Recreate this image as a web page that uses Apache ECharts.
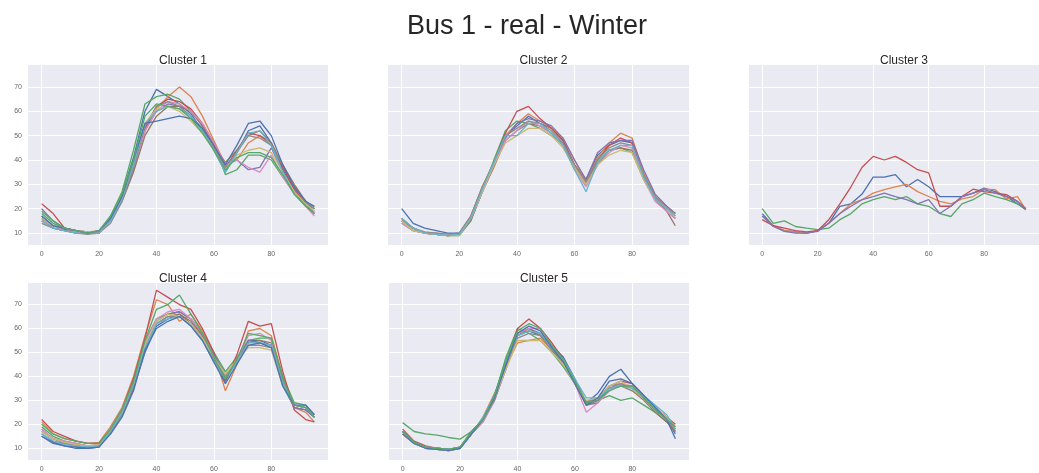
<!DOCTYPE html>
<html>
<head>
<meta charset="utf-8">
<script src="https://cdn.jsdelivr.net/npm/echarts@6/dist/echarts.min.js"></script>
<style>
html,body{margin:0;padding:0;background:#fff;}
#chart{width:1039px;height:473px;}
</style>
</head>
<body>
<div id="chart"></div>
<script>
// ---- data ----
const mainTitle = "Bus 1 - real - Winter";
const clusterNames = ["Cluster 1", "Cluster 2", "Cluster 3", "Cluster 4", "Cluster 5"];
const xTicks = [0, 20, 40, 60, 80];
const yTicks = [10, 20, 30, 40, 50, 60, 70];
const xs = [0,4,8,12,16,20,24,28,32,36,40,44,48,52,56,60,64,68,72,76,80,84,88,92,95];

const cluster1 = [
  [17,13,11.5,10.5,10,11,16,26,41,60,69,66,63,59,52,44,35,43,52,54,47,36,28,22,20],
  [15,12,11,10.5,10,10.5,15,24,37,52,61,66,70,66,58,48,38,40,47,50,46,37,29,23,18],
  [18,14,12,11,10.5,10,17,27,44,63,66,67,65,60,54,47,34,36,42,42,40,33,27,22,21],
  [22,18,12,11,10,10.5,16,25,38,53,62,65,64,61,55,47,37,44,51,50,47,37,28,22,18],
  [20,15,12,11,10.5,10,15,24,36,52,60,63,62,58,53,46,38,40,36,37,45,35,27,21,19],
  [16,12,11,10,10,11,15,23,35,50,58,62,62,60,54,46,39,44,50,52,47,38,30,23,20],
  [15,13,11,10.5,10,10,15,24,37,52,60,64,63,60,55,47,38,40,37,35,42,33,26,21,17],
  [14,12,11,10,9.5,10,14,23,37,54,62,64,62,58,52,45,37,43,50,49,46,38,29,23,20],
  [16,13,12,11,10.5,11,16,26,39,55,61,62,60,56,51,44,36,42,44,45,43,35,27,22,19],
  [15,12,11,10,10,10,15,24,38,55,60,62,61,58,52,44,35,43,51,52,46,35,26,21,18],
  [17,13,12,11,10,11,16,25,40,55,56,57,58,57,53,46,38,46,55,56,50,38,29,23,21],
  [19,15,12,11,10,11,17,26,40,58,63,62,61,57,51,44,36,41,43,43,41,34,26,21,18]
];
const cluster2 = [
  [20,14,12,11,10,10,16,27,38,50,54,58,55,53,48,38,32,42,46,48,47,34,25,20,18],
  [15,11,10,9.5,9,9.5,16,28,39,50,55,59,56,53,49,40,31,41,47,51,49,35,25,21,18],
  [14,11,10,9.5,9,9,15,27,40,52,56,55,53,50,47,37,30,39,44,45,43,32,24,20,17],
  [16,12,10,10,9.5,10,17,29,39,51,60,62,57,53,48,38,31,40,46,49,47,33,24,19,16],
  [16,12,10,9.5,9,9.5,16,28,38,49,55,57,56,54,49,40,32,43,47,48,48,36,26,21,18],
  [15,12,10,9.5,9,9.5,15,27,37,48,52,55,54,51,46,37,30,38,44,45,44,33,24,19,13],
  [14,11,10,9.5,9,9.5,16,27,38,48,52,56,54,51,46,36,29,38,43,46,45,32,23,19,16],
  [15,12,10.5,10,9.5,10,17,29,39,50,53,56,55,52,47,38,31,40,45,47,46,34,25,20,18],
  [15,11,10,9.5,9,9,16,27,38,47,50,53,53,50,45,37,30,38,42,44,43,32,24,20,17],
  [16,12,10,9.5,9,9.5,16,28,39,50,50,55,55,51,46,36,27,39,44,46,46,33,24,20,17]
];
const cluster3 = [
  [18,13,11,10.5,10,11,14,21,22,26,33,33,34,29,32,29,25,25,25,26.4,28.5,27,25,22,19.6],
  [17,13,11,10.5,10,11,14,18,22,23.7,26.4,27.8,29,30,27,25,23,22,24,25,28,27.8,24,25,19.6],
  [20,14,15,12.7,12,11.4,12,15.5,18,22,23.7,25,23.7,25,22,21,18,16.8,22,23.7,26.4,25,23.7,22,20],
  [15.5,13,12,11,10.5,11,15.5,22,29,37,41.5,40,41.5,39,36,34.7,21,21,25,28,27,26.4,25.8,23,20],
  [17,12.7,10.7,10,10,10.7,14,18,21,23.7,25,26.4,25,23.7,22,23.7,18,21,25,26.4,27.8,26.4,25,23,20]
];
const cluster4 = [
  [15,12,11,10,10,10.5,17,24,35,50,61,64,66,62,56,46,38,47,55,55,53,36,27,26,23],
  [21,16,14,13,12,12.5,19,27,40,57,72,70,63,66,59,50,34,45,59,60,57,40,27,25,21],
  [19,15,13,12,11,11,18,26,38,55,64,66,67,64,58,50,42,48,55,56,56,40,29,28,24],
  [22,17,15,13,12,12,18,26,39,56,76,73,70,68,60,50,38,49,63,61,62,42,26,22,21],
  [17,14,12,11,10.5,11,17,25,36,53,63,66,67,64,57,49,41,46,55,54,53,37,27,26,23],
  [18,14,12.5,11.5,11,11.5,17,24,36,52,62,65,66,63,57,48,40,46,54,55,54,38,28,27,23],
  [18,14,13,12,11,11.5,18,26,37,54,64,67,68,64,58,48,40,47,57,58,55,38,28,27,24],
  [16,13,12,11,10.5,11,16,24,36,52,62,65,65,62,56,47,40,46,53,53,52,37,28,27,23],
  [17,14,12.5,11.5,11,11.5,18,25,37,53,63,66,65,62,56,48,41,47,52,52,51,36,28,27,24],
  [16,13,11.5,11,10.5,11,17,25,37,52,62,64,65,61,55,46,39,46,54,54,53,37,28,27,23],
  [15,12.5,11,10.5,10,10.5,16,23,34,51,60,63,65,61,55,46,37,45,53,54,52,36,28,28,24],
  [20,16,14,13,12,12,18,26,38,55,68,70,74,66,58,48,39,47,58,57,56,39,28,27,23]
];
const cluster5 = [
  [17,12,10,9.5,9,10,16,22,31,44,57,59,57,53,48,39,29,33,40,43,37,32,27,22,16],
  [16,12,10.5,10,9.5,10.5,16,23,33,44,54,55,56,51,46,38,29,31,35,36,36,32,27,23,19],
  [20.7,17,16,15.5,14.5,13.8,17,22,32,48,60,58,55,50,44,37,29,30,32,30,31,28,25,21,17],
  [18,13,11,10,9.5,10,16,22,31,45,60,64,60,54,47,38,29,30,36,38,37,32,27,23,20],
  [16,12,10,9.5,9,10,16,21,30,43,58,60,58,52,46,38,28,29,35,37,35,31,26,22,18],
  [17,12.5,10.5,10,9.5,10.5,17,22,31,45,57,60,57,51,45,37,28,30,35,36,34,30,25,21,17],
  [16,12,10.5,10,9.5,10.5,16,21,30,44,58,60,60,53,46,37,25,29,34,37,36,32,27,22,18],
  [17,12.5,10.5,10,9.5,10.5,16,22,30,44,56,58,57,51,46,38,29,31,36,37,35,31,26,22,18],
  [16,12,10,9.5,9,10,16,22,31,43,55,55,55,50,45,37,30,31,36,38,35,31,27,23,19],
  [17,12.5,10.5,10,9.5,10,16,23,32,46,57,59,58,52,47,39,31,31,35,36,35,32,28,24,18],
  [16,12,10,9.5,9,10,16,22,31,45,58,61,59,52,46,37,28,31,38,39,37,32,27,22,14],
  [17,12.5,10.5,10,9.5,10.5,17,22,32,47,59,62,60,53,47,38,29,30,34,36,36,31,26,22,19]
];
const clusters = [cluster1, cluster2, cluster3, cluster4, cluster5];

// ---- styling ----
const palette = ['#4C72B0','#DD8452','#55A868','#C44E52','#8172B3','#937860','#DA8BC3','#8C8C8C','#CCB974','#64B5CD','#4C72B0','#55A868'];
const cluster3Colors = ['#4C72B0','#DD8452','#55A868','#C44E52','#8172B3'];
const grids = [
  {left: 28, top: 65, width: 300, height: 180},
  {left: 388, top: 65, width: 301, height: 180},
  {left: 749, top: 65, width: 300, height: 180},
  {left: 28, top: 283, width: 300, height: 180},
  {left: 389, top: 283, width: 300, height: 180}
];
const showY = [true, false, false, true, false];
const labelStyle = {fontFamily: 'Liberation Sans', fontSize: 7, color: '#666'};

const chart = echarts.init(document.getElementById('chart'), null, {renderer: 'canvas'});
const titles = [{
  text: mainTitle, left: 522, top: 8, textAlign: 'center',
  textStyle: {fontFamily: 'Liberation Sans', fontSize: 27, fontWeight: 'normal', color: '#262626'}
}];
grids.forEach((g, i) => {
  titles.push({
    text: clusterNames[i], left: g.left + g.width / 2, top: g.top - 15, textAlign: 'center',
    textStyle: {fontFamily: 'Liberation Sans', fontSize: 12, fontWeight: 'normal', color: '#262626'}
  });
});
const series = [];
clusters.forEach((cl, k) => {
  cl.forEach((ys, j) => {
    const col = k === 2 ? cluster3Colors[j] : palette[j % palette.length];
    series.push({
      type: 'line', xAxisIndex: k, yAxisIndex: k,
      data: xs.map((x, i) => [x, ys[i]]),
      showSymbol: false, symbol: 'none', silent: true,
      lineStyle: {width: 1.3, color: col}, z: 3
    });
  });
});
chart.setOption({
  animation: false,
  backgroundColor: '#ffffff',
  title: titles,
  grid: grids.map(g => Object.assign({show: true, backgroundColor: '#EAEAF2', borderWidth: 0, containLabel: false}, g)),
  xAxis: grids.map((g, i) => ({
    type: 'value', gridIndex: i, min: -4.75, max: 99.75,
    axisLine: {show: false},
    axisTick: {show: false, customValues: xTicks},
    axisLabel: Object.assign({customValues: xTicks, margin: 6}, labelStyle),
    splitLine: {show: true, lineStyle: {color: '#ffffff', width: 1}}
  })),
  yAxis: grids.map((g, i) => ({
    type: 'value', gridIndex: i, min: 5.1, max: 79,
    axisLine: {show: false},
    axisTick: {show: false, customValues: yTicks},
    axisLabel: Object.assign({show: showY[i], customValues: yTicks, margin: 6}, labelStyle),
    splitLine: {show: true, lineStyle: {color: '#ffffff', width: 1}}
  })),
  series: series
});
</script>
</body>
</html>
